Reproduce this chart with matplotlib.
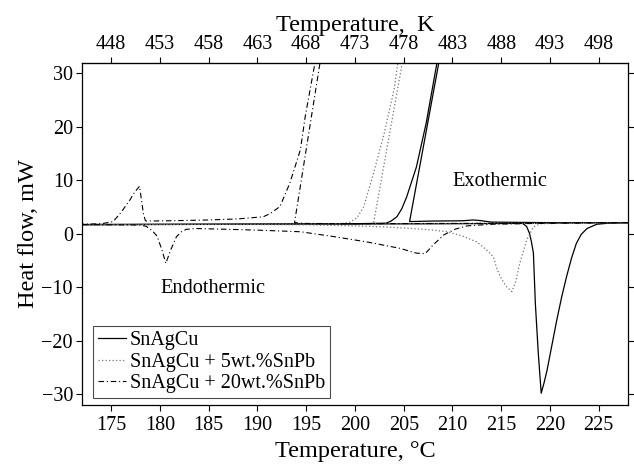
import matplotlib
matplotlib.use("Agg")
import matplotlib.pyplot as plt

plt.rcParams['font.family'] = ['Liberation Serif', 'DejaVu Serif']
plt.rcParams['mathtext.fontset'] = 'stix'

# --- data (temperature in degC, heat flow in mW) ---
sac_heat_x = [172, 180, 190, 200, 210, 216, 217.2, 217.6, 217.9, 218.1, 218.3, 218.5, 218.8, 219.1,
              219.4, 219.7, 220.2, 220.7, 221.2, 221.7, 222.2, 222.7, 223.2, 223.8, 224.8, 226, 228]
sac_heat_y = [1.7, 1.75, 1.8, 1.85, 1.9, 1.95, 1.95, 1.4, 0.1, -1.5, -3.6, -13, -22.3, -29.8,
              -27.8, -25.5, -20.8, -16.1, -11.8, -8.0, -4.6, -1.8, -0.1, 1.0, 1.8, 2.0, 2.1]

sac_cool_x = [228, 220, 214, 212.8, 212.1, 211, 208, 205.6, 208.7, 208.55, 208.4, 207.3, 206.3,
              205.3, 204.8, 204.3, 203.7, 203.2, 200, 190, 180, 172]
sac_cool_y = [2.1, 2.1, 2.2, 2.5, 2.6, 2.45, 2.4, 2.3, 33, 33, 31.9, 20.7, 12.5,
              6.9, 4.7, 3.2, 2.4, 2.0, 1.9, 1.85, 1.8, 1.75]

p5_heat_x = [172, 180, 190, 195, 200, 203, 206, 208, 209.5, 211, 212.5, 213.5, 214.2, 214.5, 214.9,
             215.5, 216.1, 216.5, 216.9, 217.6, 218.3, 219, 222, 228]
p5_heat_y = [1.75, 1.8, 1.75, 1.7, 1.5, 1.3, 1.0, 0.7, 0.4, -0.4, -1.5, -3.0, -4.3, -6.2, -8.0,
             -9.8, -10.8, -8.8, -5.5, -1.2, 1.3, 1.9, 2.0, 2.1]

p5_cool_x = [228, 220, 210, 205, 201.9, 204.95, 204.5, 204.4, 204.0, 203.0, 201.9, 200.9, 200.2,
             199.5, 198.5, 195, 185, 172]
p5_cool_y = [2.1, 2.0, 1.95, 1.9, 1.95, 33, 33, 32, 26.9, 18.8, 11.3, 5.1, 3.0,
             2.2, 1.9, 1.85, 1.8, 1.75]

p20_heat_x = [172, 175, 178, 178.6, 179.2, 179.7, 180.2, 180.6, 181.1, 181.7, 182.2, 182.7, 183.8,
              186, 190, 194.4, 197.8, 201.2, 204.6, 206.3, 207.2, 208.0, 209.1, 210.3, 211.5, 214,
              220, 228]
p20_heat_y = [1.75, 1.7, 1.65, 1.4, 0.6, -0.4, -3.0, -5.5, -3.0, -0.5, 0.4, 0.85, 1.0,
              0.9, 0.7, 0.4, -0.5, -1.5, -2.7, -3.6, -3.7, -2.1, -0.2, 0.9, 1.5, 1.8,
              2.0, 2.1]

p20_cool_x = [228, 220, 210, 200, 195, 193.8, 196.5, 196.2, 195.9, 194.9, 194.4, 193.3, 192.3,
              191.3, 190.6, 188, 185, 181, 178.6, 178.5, 178.3, 177.9, 177.4, 176.9, 176.0,
              175.2, 174, 172]
p20_cool_y = [2.1, 2.0, 1.95, 1.9, 1.95, 2.1, 33, 33, 32, 22, 15.7, 9.4, 5.1,
              3.8, 3.2, 2.8, 2.6, 2.45, 2.4, 2.5, 3.8, 8.9, 7.8, 6.3, 4.0,
              2.3, 1.9, 1.8]

labels = ['SnAgCu', 'SnAgCu + 5wt.%SnPb', 'SnAgCu + 20wt.%SnPb']
xticks_c = [175, 180, 185, 190, 195, 200, 205, 210, 215, 220, 225]
xticks_k = [448, 453, 458, 463, 468, 473, 478, 483, 488, 493, 498]
yticks = [-30, -20, -10, 0, 10, 20, 30]

fig = plt.figure(figsize=(6.34, 4.72), dpi=100)
ax = fig.add_axes([0.1293, 0.142, 0.8612, 0.725])

solid = dict(color='black', lw=0.9, ls='-')
dotted = dict(color='0.45', lw=0.9, ls=(0, (1, 1.8)))
dashdot = dict(color='black', lw=0.8, ls=(0, (5, 2.5, 1, 2.5)))

ax.plot(sac_heat_x, sac_heat_y, label=labels[0], **solid)
ax.plot(sac_cool_x, sac_cool_y, **solid)
ax.plot(p5_heat_x, p5_heat_y, label=labels[1], **dotted)
ax.plot(p5_cool_x, p5_cool_y, **dotted)
ax.plot(p20_heat_x, p20_heat_y, label=labels[2], **dashdot)
ax.plot(p20_cool_x, p20_cool_y, **dashdot)

ax.set_xlim(172, 228)
ax.set_ylim(-32, 32)
ax.set_xticks(xticks_c)
ax.set_yticks(yticks)
ax.tick_params(direction='out', length=4, width=0.8, labelsize=14.5, right=True,
               labelright=False, top=False)
ax.tick_params(axis='x', pad=4)
ax.tick_params(axis='y', pad=2.5)
for s in ax.spines.values():
    s.set_linewidth(0.9)

sec = ax.secondary_xaxis('top', functions=(lambda c: c + 273, lambda k: k - 273))
sec.set_xticks(xticks_k)
sec.tick_params(direction='out', length=4, width=0.8, labelsize=14.5, pad=2.5)
sec.set_xlabel('Temperature,  K', fontsize=17.5, labelpad=3)

ax.set_xlabel('Temperature, °C', fontsize=17.5, labelpad=4)
ax.set_ylabel('Heat flow, mW', fontsize=17.5, labelpad=1.5)

ax.text(210.0, 9.75, 'Exothermic', fontsize=14.7, ha='left', va='center')
ax.text(180.0, -10.2, 'Endothermic', fontsize=14.7, ha='left', va='center')

leg = ax.legend(loc='lower left', bbox_to_anchor=(0.02, 0.02), borderaxespad=0,
                fontsize=14.5, fancybox=False, edgecolor='0.3', framealpha=1,
                handlelength=1.4, handletextpad=0.18, labelspacing=0.12,
                borderpad=0.25)
leg.get_frame().set_linewidth(0.8)

fig.savefig('out.png', dpi=100)
